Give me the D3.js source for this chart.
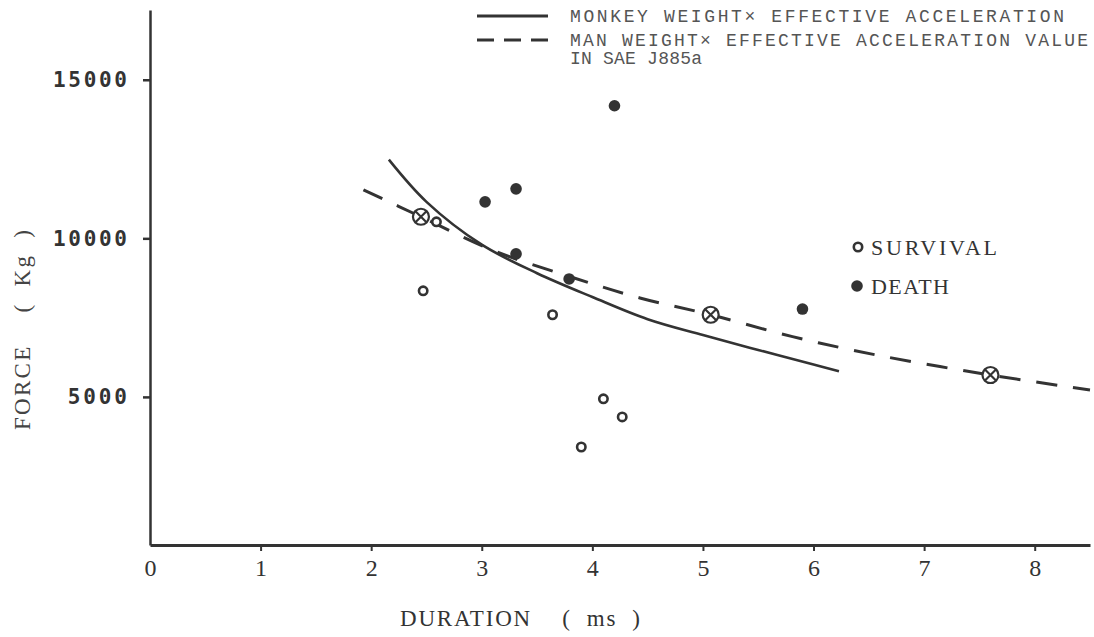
<!DOCTYPE html>
<html>
<head>
<meta charset="utf-8">
<script src="https://cdn.jsdelivr.net/npm/d3@7"></script>
<style>
  body { margin: 0; background: #fff; }
  svg { display: block; }
</style>
</head>
<body>
<script>
// chart values
var survival = [[2.59, 10520], [2.47, 8344], [3.64, 7590], [4.10, 4940], [4.27, 4370], [3.90, 3420]];
var death = [[4.20, 14180], [3.03, 11150], [3.31, 11560], [3.31, 9510], [3.79, 8720], [5.90, 7770]];
var crossed = [[2.45, 10680], [5.07, 7590], [7.60, 5690]];
var monkeyCurve = [[2.16, 12480], [2.5, 11150], [3.0, 9800], [3.5, 8900], [4.0, 8150],
                   [4.5, 7450], [5.0, 6950], [5.5, 6480], [6.0, 6020], [6.23, 5810]];
var manCurve = [[1.93, 11530], [2.45, 10680], [3.10, 9620], [3.80, 8790], [4.43, 8120],
                [5.07, 7590], [5.81, 6900], [6.57, 6320], [7.60, 5690], [8.50, 5220]];
var xTicks = [0, 1, 2, 3, 4, 5, 6, 7, 8];
var yTicks = [5000, 10000, 15000];
var legendLines = ["MONKEY WEIGHT\u00d7 EFFECTIVE ACCELERATION",
                   "MAN WEIGHT\u00d7 EFFECTIVE ACCELERATION VALUE",
                   "IN SAE J885a"];
var legendMarks = ["SURVIVAL", "DEATH"];

var width = 1094;
var height = 637;
var ink = "#333";

var svg = d3.select("body")
  .append("svg")
  .attr("width", width)
  .attr("height", height);

var x = d3.scaleLinear().domain([0, 8.5]).range([150, 1090]);
var y = d3.scaleLinear().domain([330, 17200]).range([545, 10]);

// x axis
var xAxis = svg.append("g")
  .attr("transform", "translate(0," + y(330) + ")")
  .call(d3.axisBottom(x).tickValues(xTicks).tickSize(6).tickPadding(8).tickSizeOuter(0));
xAxis.select(".domain").attr("stroke", ink).attr("stroke-width", 3);
xAxis.selectAll(".tick line").attr("stroke", ink).attr("stroke-width", 2)
  .filter(function(d) { return d === 0; }).remove();
xAxis.selectAll(".tick text")
  .attr("fill", ink)
  .style("font-family", "'Liberation Serif', serif")
  .style("font-size", "24px");

// y axis
var yAxis = svg.append("g")
  .attr("transform", "translate(" + x(0) + ",0)")
  .call(d3.axisLeft(y).tickValues(yTicks).tickFormat(d3.format("d"))
    .tickSize(7).tickPadding(16).tickSizeOuter(0));
yAxis.select(".domain").attr("stroke", ink).attr("stroke-width", 2.5);
yAxis.selectAll(".tick line").attr("stroke", ink).attr("stroke-width", 2.5);
yAxis.selectAll(".tick text")
  .attr("fill", ink)
  .style("font-family", "'DejaVu Sans Mono', monospace")
  .style("font-weight", "bold")
  .style("font-size", "21px")
  .attr("textLength", function(d) { return String(d).length * 14.8; })
  .attr("lengthAdjust", "spacing");

// axis titles
svg.append("text")
  .attr("transform", "translate(30,330) rotate(-90)")
  .attr("text-anchor", "middle")
  .attr("fill", "#444")
  .style("font-family", "'Liberation Serif', serif")
  .style("font-size", "23px")
  .attr("textLength", 200)
  .attr("lengthAdjust", "spacing")
  .style("white-space", "pre")
  .text("FORCE    (  Kg  )");

svg.append("text")
  .attr("x", 400)
  .attr("y", 626)
  .attr("fill", "#333")
  .style("font-family", "'Liberation Serif', serif")
  .style("font-size", "23px")
  .attr("textLength", 240)
  .attr("lengthAdjust", "spacing")
  .style("white-space", "pre")
  .text("DURATION    (  ms  )");

// curves
var line = d3.line()
  .x(function(d) { return x(d[0]); })
  .y(function(d) { return y(d[1]); })
  .curve(d3.curveCatmullRom);

svg.append("path")
  .datum(monkeyCurve)
  .attr("fill", "none")
  .attr("stroke", ink)
  .attr("stroke-width", 2.6)
  .attr("d", line);

svg.append("path")
  .datum(manCurve)
  .attr("fill", "none")
  .attr("stroke", ink)
  .attr("stroke-width", 3)
  .attr("stroke-dasharray", "21,16")
  .attr("d", line);

// points
svg.append("g").selectAll("circle")
  .data(survival)
  .enter()
  .append("circle")
  .attr("cx", function(d) { return x(d[0]); })
  .attr("cy", function(d) { return y(d[1]); })
  .attr("r", 4.2)
  .attr("fill", "#fff")
  .attr("stroke", ink)
  .attr("stroke-width", 2.6);

svg.append("g").selectAll("circle")
  .data(death)
  .enter()
  .append("circle")
  .attr("cx", function(d) { return x(d[0]); })
  .attr("cy", function(d) { return y(d[1]); })
  .attr("r", 5.8)
  .attr("fill", ink);

var cg = svg.append("g").selectAll("g")
  .data(crossed)
  .enter()
  .append("g")
  .attr("transform", function(d) { return "translate(" + x(d[0]) + "," + y(d[1]) + ")"; });
cg.append("circle")
  .attr("r", 8)
  .attr("fill", "#fff")
  .attr("stroke", ink)
  .attr("stroke-width", 2.2);
cg.append("path")
  .attr("d", "M-5.5,-5.5L5.5,5.5M-5.5,5.5L5.5,-5.5")
  .attr("stroke", ink)
  .attr("stroke-width", 2.2);

// legend for curves
var lg = svg.append("g");
lg.append("line")
  .attr("x1", 477).attr("x2", 548).attr("y1", 16).attr("y2", 16)
  .attr("stroke", ink).attr("stroke-width", 3);
lg.append("line")
  .attr("x1", 477).attr("x2", 548).attr("y1", 40).attr("y2", 40)
  .attr("stroke", ink).attr("stroke-width", 3)
  .attr("stroke-dasharray", "17,10");
lg.selectAll("text")
  .data(legendLines)
  .enter()
  .append("text")
  .attr("x", 570)
  .attr("y", function(d, i) { return [22, 46, 64][i]; })
  .attr("fill", "#555")
  .style("font-family", "'Liberation Mono', monospace")
  .style("font-size", "18px")
  .attr("textLength", function(d, i) { return [494, 518, 132][i]; })
  .attr("lengthAdjust", "spacing")
  .text(function(d) { return d; });

// legend for points
var mg = svg.append("g");
mg.append("circle")
  .attr("cx", 858).attr("cy", 247).attr("r", 4.2)
  .attr("fill", "#fff").attr("stroke", ink).attr("stroke-width", 2.6);
mg.append("circle")
  .attr("cx", 857).attr("cy", 286).attr("r", 5.8)
  .attr("fill", ink);
mg.selectAll("text")
  .data(legendMarks)
  .enter()
  .append("text")
  .attr("x", 871)
  .attr("y", function(d, i) { return [255, 294][i]; })
  .attr("fill", ink)
  .style("font-family", "'Liberation Serif', serif")
  .style("font-size", "22px")
  .attr("textLength", function(d, i) { return [126, 78][i]; })
  .attr("lengthAdjust", "spacing")
  .text(function(d) { return d; });
</script>
</body>
</html>
